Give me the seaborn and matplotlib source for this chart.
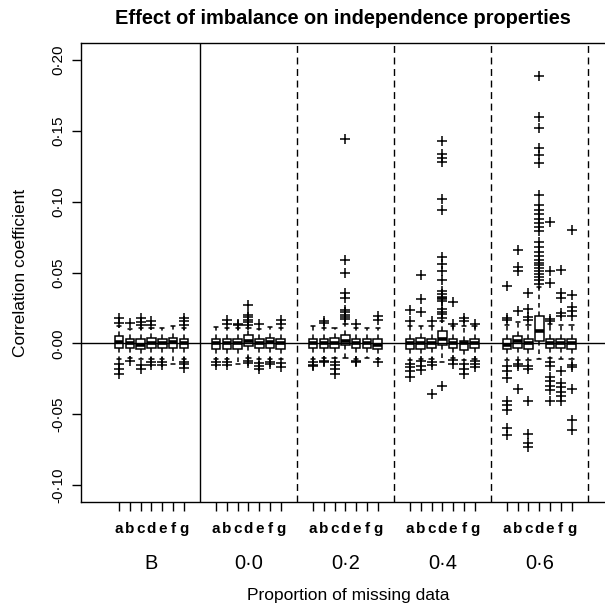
import numpy as np
import pandas as pd
import matplotlib
matplotlib.use("Agg")
import matplotlib.pyplot as plt
import matplotlib.transforms as mtransforms
import seaborn as sns

groups = ["B", "0·0", "0·2", "0·4", "0·6"]
methods = ["a", "b", "c", "d", "e", "f", "g"]

# box summaries, one row per group, columns a..g
whisk_lo = [
    [-0.011, -0.010, -0.011, -0.011, -0.011, -0.0145, -0.011],
    [-0.011, -0.011, -0.0145, -0.010, -0.011, -0.011, -0.011],
    [-0.011, -0.010, -0.010, -0.010, -0.011, -0.0105, -0.011],
    [-0.012, -0.011, -0.011, -0.0135, -0.010, -0.012, -0.011],
    [-0.012, -0.012, -0.012, -0.011, -0.010, -0.011, -0.011],
]
q1 = [
    [-0.003, -0.003, -0.004, -0.003, -0.003, -0.003, -0.003],
    [-0.004, -0.004, -0.004, -0.002, -0.003, -0.003, -0.004],
    [-0.003, -0.003, -0.003, -0.001, -0.003, -0.003, -0.004],
    [-0.004, -0.004, -0.003, -0.001, -0.003, -0.005, -0.003],
    [-0.004, -0.003, -0.004, 0.002, -0.003, -0.003, -0.004],
]
medians = [
    [0.001, 0.000, -0.001, 0.000, 0.000, 0.001, 0.000],
    [0.000, 0.000, 0.000, 0.002, 0.000, 0.001, 0.000],
    [0.000, 0.000, 0.000, 0.002, 0.000, 0.000, -0.001],
    [0.000, 0.000, 0.000, 0.003, 0.000, 0.000, 0.000],
    [-0.001, 0.002, 0.000, 0.009, 0.000, 0.000, 0.000],
]
q3 = [
    [0.005, 0.003, 0.003, 0.004, 0.003, 0.004, 0.003],
    [0.003, 0.003, 0.003, 0.006, 0.003, 0.004, 0.003],
    [0.003, 0.003, 0.004, 0.006, 0.003, 0.003, 0.003],
    [0.003, 0.004, 0.003, 0.009, 0.003, 0.002, 0.003],
    [0.003, 0.005, 0.003, 0.019, 0.003, 0.003, 0.003],
]
whisk_hi = [
    [0.012, 0.010, 0.011, 0.011, 0.011, 0.012, 0.011],
    [0.0114, 0.0105, 0.011, 0.011, 0.010, 0.0114, 0.011],
    [0.012, 0.011, 0.011, 0.014, 0.011, 0.011, 0.011],
    [0.012, 0.012, 0.012, 0.016, 0.012, 0.012, 0.012],
    [0.013, 0.015, 0.013, 0.040, 0.014, 0.013, 0.013],
]

# outliers ("+") per box, a..g
out_B = [
    [0.018, 0.0145, -0.0147, -0.018, -0.0217],
    [0.0145, -0.0128],
    [0.018, 0.0152, 0.013, -0.015, -0.018],
    [0.0157, 0.013, -0.0135, -0.015],
    [-0.0135, -0.015],
    [],
    [0.018, 0.0157, 0.013, -0.0135, -0.0147, -0.0171],
]
out_00 = [
    [-0.0135, -0.0155],
    [0.0168, 0.0138, -0.0135, -0.0155],
    [0.0138, 0.0128],
    [0.0273, 0.0203, 0.0185, 0.0168, 0.0152, 0.0133, -0.0124, -0.0142],
    [0.0138, -0.0136, -0.016, -0.018],
    [-0.0135, -0.0147],
    [0.0168, 0.0138, -0.014, -0.0164],
]
out_02 = [
    [-0.0133, -0.015, -0.016],
    [0.016, 0.0145, -0.0124, -0.013],
    [-0.013, -0.015, -0.018, -0.0217],
    [0.144, 0.059, 0.050, 0.0355, 0.032, 0.0235, 0.022, 0.020, 0.0185, 0.017],
    [0.014, -0.0124, -0.013],
    [],
    [0.019, 0.0165, -0.013],
]
out_04 = [
    [0.0238, 0.0157, -0.0147, -0.017, -0.0194, -0.0234],
    [0.048, 0.0316, 0.0222, -0.0124, -0.016, -0.0187],
    [0.0157, -0.013, -0.0155, -0.0357],
    [0.1426, 0.134, 0.131, 0.128, 0.1017, 0.094, 0.0612, 0.056, 0.0514,
     0.0444, 0.037, 0.035, 0.033, 0.032, 0.031, 0.030, 0.024, 0.022,
     0.021, 0.018, -0.0304],
    [0.0295, 0.014, -0.0117, -0.0147],
    [0.018, 0.0157, -0.0147, -0.018, -0.0215],
    [0.014, -0.0124, -0.0147, -0.017],
]
out_06 = [
    [0.0407, 0.018, 0.0163, -0.0163, -0.0194, -0.0248, -0.0405, -0.0435,
     -0.0468, -0.060, -0.065],
    [0.066, 0.054, 0.0514, 0.0227, -0.0147, -0.016, -0.032],
    [0.0355, 0.0243, 0.0187, 0.0163, -0.0163, -0.018, -0.041, -0.064,
     -0.070, -0.073],
    [0.189, 0.160, 0.152, 0.138, 0.133, 0.127, 0.1045, 0.0975, 0.094,
     0.091, 0.088, 0.085, 0.082, 0.0795, 0.0717, 0.068, 0.0647, 0.062,
     0.059, 0.057, 0.055, 0.053, 0.051, 0.049, 0.047, 0.045, 0.042],
    [0.0858, 0.0514, 0.0425, 0.0173, 0.016, -0.0135, -0.0163, -0.024,
     -0.0264, -0.030, -0.033, -0.041],
    [0.052, 0.0355, 0.032, 0.0215, 0.019, -0.0194, -0.028, -0.031,
     -0.0346, -0.037, -0.041],
    [0.080, 0.0344, 0.026, 0.0227, 0.0196, -0.0154, -0.017, -0.032,
     -0.054, -0.0615],
]
outliers = [out_B, out_00, out_02, out_04, out_06]

y_ticks = [-0.10, -0.05, 0.00, 0.05, 0.10, 0.15, 0.20]

# layout: 7 boxes per group, 2 empty slots between groups
SLOT = 9

box_rows = []
out_rows = []
for g, grp in enumerate(groups):
    for j, m in enumerate(methods):
        pos = g * SLOT + j
        for v in (whisk_lo[g][j], q1[g][j], medians[g][j], q3[g][j], whisk_hi[g][j]):
            box_rows.append({"pos": pos, "value": v})
        for v in outliers[g][j]:
            out_rows.append({"pos": pos, "value": v})
box_df = pd.DataFrame(box_rows)
out_df = pd.DataFrame(out_rows)

sns.set_theme(style="ticks")
plt.rcParams["font.family"] = ["Liberation Sans", "DejaVu Sans"]
plt.rcParams.update({
    "axes.linewidth": 1.0,
    "axes.edgecolor": "black",
    "text.color": "black",
    "axes.labelcolor": "black",
    "xtick.color": "black",
    "ytick.color": "black",
})

fig = plt.figure(figsize=(6.05, 6.05), dpi=100)
ax = fig.add_axes([0.1347, 0.1702, 0.8812, 0.7587])

# five-number rows -> quartiles exactly; whiskers at min/max
sns.boxplot(data=box_df, x="pos", y="value", native_scale=True, orient="x",
            whis=(0, 100), width=0.8, color="white", linecolor="black",
            linewidth=1.1, fliersize=0,
            medianprops={"linewidth": 2.6},
            whiskerprops={"linestyle": (0, (3, 2.5))},
            ax=ax)

sns.scatterplot(data=out_df, x="pos", y="value", marker="+", color="black",
                s=42, linewidth=1.1, legend=False, zorder=4, ax=ax)

ax.axhline(0, color="black", lw=1.0, zorder=5)
for g in range(1, len(groups) + 1):
    ax.axvline(g * SLOT - 1.5, color="black", lw=1.0,
               linestyle="-" if g == 1 else (0, (5, 3.3)), zorder=1)

ax.set_xlim(-3.5, 46)
ax.set_ylim(-0.112, 0.212)

xt = [g * SLOT + j for g in range(len(groups)) for j in range(len(methods))]
ax.set_xticks(xt)
ax.set_xticklabels(methods * len(groups), fontsize=11, fontweight="bold")
ax.tick_params(axis="x", length=6.5, width=1.0, pad=8, color="black")

ax.set_yticks(y_ticks)
ax.set_yticklabels([f"{v:.2f}".replace(".", "·") for v in y_ticks],
                   fontsize=11, rotation=90, va="center")
ax.tick_params(axis="y", length=6.5, width=1.0, pad=5, color="black")

trans = mtransforms.blended_transform_factory(ax.transData, ax.transAxes)
for g, grp in enumerate(groups):
    ax.text(g * SLOT + 3, -0.146, grp, transform=trans, ha="center",
            va="baseline", fontsize=14.4)

ax.set_xlabel("Proportion of missing data", fontsize=12.5)
ax.xaxis.set_label_coords(0.5, -0.2135)
ax.xaxis.label.set_va("baseline")
ax.set_ylabel("Correlation coefficient", fontsize=12.5)
ax.yaxis.set_label_coords(-0.106, 0.5)
ax.yaxis.label.set_va("baseline")

fig.text(343 / 605, 1 - 24 / 605, "Effect of imbalance on independence properties",
         ha="center", va="baseline", fontsize=14.4, fontweight="bold")

fig.savefig("out.png", dpi=100)
